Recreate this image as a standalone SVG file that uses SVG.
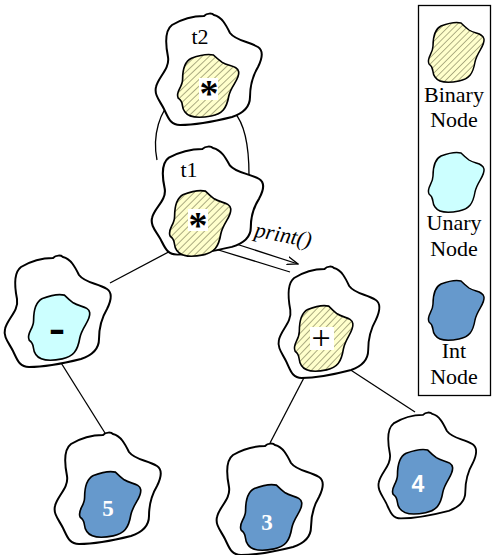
<svg xmlns="http://www.w3.org/2000/svg" xmlns:xlink="http://www.w3.org/1999/xlink" width="493" height="555" viewBox="0 0 493 555">
<style>
.outer{fill:#fff;stroke:#000;stroke-width:2}
.bin{fill:url(#hatch);stroke:#000;stroke-width:1.5}
.un{fill:#ccffff;stroke:#000;stroke-width:1.5}
.int{fill:#6699cc;stroke:#000;stroke-width:1.5}
.lbl{font-family:"Liberation Serif",serif;font-size:22px;fill:#000;text-anchor:middle}
.num{font-family:"Liberation Serif",serif;font-size:23px;font-weight:bold;fill:#fff;text-anchor:middle}
.op{font-family:"Liberation Serif",serif;font-size:38px;fill:#000;text-anchor:middle}
.box{fill:#fff}
.conn{fill:none;stroke:#000;stroke-width:1.3}
</style>
<defs>
<pattern id="hatch" patternUnits="userSpaceOnUse" width="4.5" height="4.5" patternTransform="rotate(45)">
<rect width="4.5" height="4.5" fill="#ffffcc"/>
<line x1="0" y1="0" x2="0" y2="4.5" stroke="#7d7d58" stroke-width="1.2"/>
</pattern>
<path id="ob" d="M 18 12 C 28 6 40 3 50 3 C 53 0 58 0 60 2 C 68 4 72 12 76 20 C 82 28 94 28 104 34 C 110 38 108 46 104 54 C 98 64 96 74 96 84 C 96 94 90 100 78 104 C 62 108 40 112 26 112 C 16 112 14 104 10 96 C 6 88 0 82 2 74 C 4 64 16 56 14 44 C 12 34 10 18 18 12 Z"/>
<path id="ib" d="M 14 4 C 22 1 30 0 34 1 C 36 3 38 5 42 8 C 48 12 56 11 57 17 C 58 24 50 30 48 40 C 46 52 42 57 32 59 C 22 61 12 61 8 55 C 4 50 8 46 2 42 C -1 36 6 32 6 24 C 6 14 8 7 14 4 Z"/>
<marker id="arr" viewBox="0 0 12 10" refX="11" refY="5" markerWidth="12" markerHeight="10" markerUnits="userSpaceOnUse" orient="auto">
<path d="M 0 1 L 11 5 L 0 9" fill="none" stroke="#000" stroke-width="1.3"/>
</marker>
</defs>

<g id="connectors">
<path class="conn" d="M 174 99 C 160 110 152 135 157 160"/>
<path class="conn" d="M 234 112 C 246 125 249 150 249 175"/>
<line class="conn" x1="110" y1="283" x2="178" y2="247"/>
<line class="conn" x1="212" y1="248" x2="290" y2="272"/>
<line class="conn" x1="233" y1="243" x2="298" y2="264" marker-end="url(#arr)"/>
<line class="conn" x1="58" y1="358" x2="105" y2="433"/>
<line class="conn" x1="308" y1="370" x2="270" y2="443"/>
<line class="conn" x1="343" y1="365" x2="415" y2="412"/>
<text class="lbl" font-style="italic" x="282" y="242" transform="rotate(11 282 242)">print()</text>
</g>

<g id="t2">
<use xlink:href="#ob" class="outer" transform="translate(154,13)"/>
<use xlink:href="#ib" class="bin" transform="translate(176,54) scale(1.1,1.05)"/>
<text class="lbl" x="200" y="44">t2</text>
<rect class="box" x="199" y="78" width="19" height="22"/>
<text class="op" x="209" y="106" font-weight="bold">*</text>
</g>

<g id="t1">
<use xlink:href="#ob" class="outer" transform="translate(150,146) scale(1.05,0.97)"/>
<use xlink:href="#ib" class="bin" transform="translate(168,190) scale(1.1)"/>
<text class="lbl" x="189" y="177">t1</text>
<rect class="box" x="188" y="209" width="20" height="22"/>
<text class="op" x="198" y="238" font-weight="bold">*</text>
</g>

<g id="neg">
<use xlink:href="#ob" class="outer" transform="translate(3,255)"/>
<use xlink:href="#ib" class="un" transform="translate(27,294) scale(1.1)"/>
<text class="op" x="57" y="343" font-weight="bold" style="font-size:48px">-</text>
</g>

<g id="plus">
<use xlink:href="#ob" class="outer" transform="translate(277,266) scale(0.95,1.0)"/>
<use xlink:href="#ib" class="bin" transform="translate(293,305) scale(1.05,1.1)"/>
<rect class="box" x="310" y="327" width="24" height="23"/>
<text class="op" x="321" y="349" style="font-size:34px">+</text>
</g>

<g id="n5">
<use xlink:href="#ob" class="outer" transform="translate(53,432)"/>
<use xlink:href="#ib" class="int" transform="translate(78,471) scale(1.1)"/>
<text class="num" x="108" y="516">5</text>
</g>

<g id="n3">
<use xlink:href="#ob" class="outer" transform="translate(215,443)"/>
<use xlink:href="#ib" class="int" transform="translate(239,484) scale(1.1)"/>
<text class="num" x="267" y="530">3</text>
</g>

<g id="n4">
<use xlink:href="#ob" class="outer" transform="translate(377,412) scale(0.92,0.95)"/>
<use xlink:href="#ib" class="int" transform="translate(391,449) scale(1.08)"/>
<text class="num" x="418" y="492" style="font-family:'Liberation Sans',sans-serif">4</text>
</g>

<g id="legend">
<rect x="418.5" y="5.5" width="72" height="390" fill="#fff" stroke="#000" stroke-width="1.3"/>
<use xlink:href="#ib" class="bin" transform="translate(427,22)"/>
<text class="lbl" x="454" y="102">Binary</text>
<text class="lbl" x="454" y="127">Node</text>
<use xlink:href="#ib" class="un" transform="translate(427,152)"/>
<text class="lbl" x="454" y="230">Unary</text>
<text class="lbl" x="454" y="256">Node</text>
<use xlink:href="#ib" class="int" transform="translate(427,280)"/>
<text class="lbl" x="454" y="358">Int</text>
<text class="lbl" x="454" y="384">Node</text>
</g>
</svg>
